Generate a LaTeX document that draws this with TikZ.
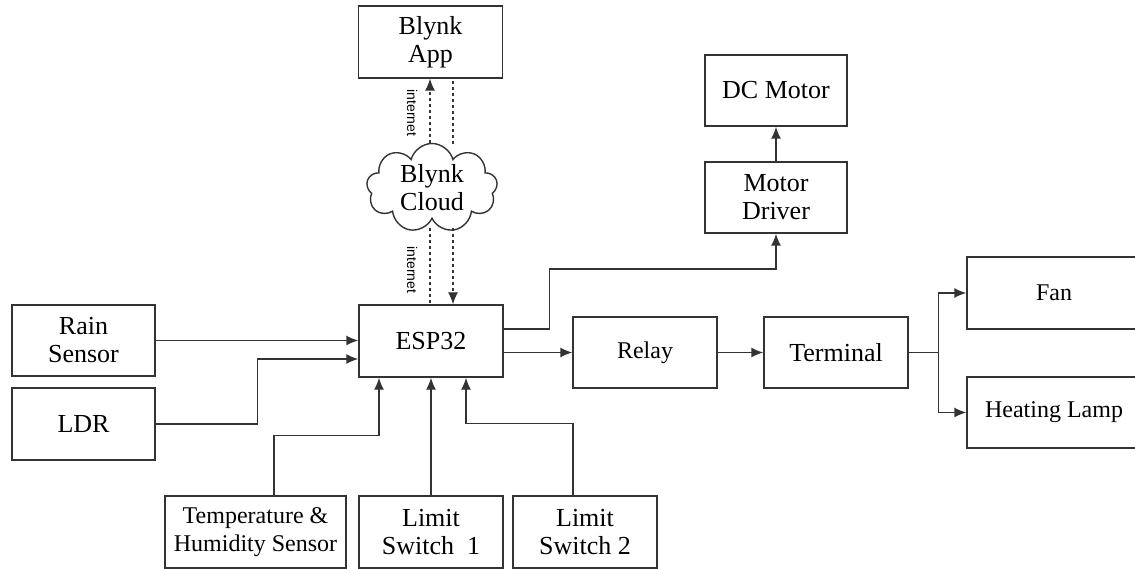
\documentclass[tikz,border=0pt]{standalone}
\usepackage{fontspec}
\setmainfont{Liberation Serif}
\newfontfamily\netfont{Liberation Sans}
\usetikzlibrary{arrows.meta, shapes.symbols, positioning}

\begin{document}
\begin{tikzpicture}[x=1pt, y=-1pt, line width=1.4pt, draw=black!80]
                    \tikzstyle{block}=[draw, rectangle, align=center, inner sep=0pt,
                                       minimum width=144pt, minimum height=71pt,
                                       font=\fontsize{26}{28}\selectfont]
                    \tikzstyle{small}=[font=\fontsize{24}{28}\selectfont]
                    \tikzstyle{arr}=[-{Latex[length=12pt,width=10pt]}]
                    \tikzstyle{net}=[dashed, line width=1.1pt]
                    \tikzstyle{netlabel}=[rotate=-90, inner sep=0pt,
                                          font=\netfont\fontsize{14}{14}\selectfont]

                    \useasboundingbox (0,0) rectangle (1135,569);

                    % cloud side
                    \node (App) [block, minimum height=72pt] at (430.5,42) {Blynk\\App};
                    \node (Cloud) [draw, cloud, cloud puffs=9, aspect=1.6, inner sep=0pt,
                                   minimum width=131pt, minimum height=83pt, align=center,
                                   font=\fontsize{26}{28}\selectfont] at (432,188) {Blynk\\Cloud};
                    \node (net1) [netlabel] at (412,113) {internet};
                    \node (net2) [netlabel] at (412,270) {internet};

                    % controller and inputs
                    \node (ESP) [block, minimum height=72pt] at (431,341) {ESP32};
                    \node (Rain) [block, minimum width=143pt] at (83.5,340.5) {Rain\\Sensor};
                    \node (LDR) [block, minimum width=143pt, minimum height=72pt] at (83.5,424) {LDR};
                    \node (Temp) [block, small, minimum width=181pt, minimum height=72pt] at (255.5,532) {Temperature \&\\Humidity Sensor};
                    \node (Lim1) [block, minimum height=72pt] at (431,532) {Limit\\Switch\ \ 1};
                    \node (Lim2) [block, minimum height=72pt] at (585,532) {Limit\\Switch 2};

                    % outputs
                    \node (Driver) [block, minimum width=142pt] at (776,197.5) {Motor\\Driver};
                    \node (Motor) [block, minimum width=142pt] at (776,90.5) {DC Motor};
                    \node (Relay) [block, small] at (645,352.5) {Relay};
                    \node (Term) [block] at (836,352.5) {Terminal};
                    \node (Fan) [block, small, minimum width=174pt, minimum height=72pt] at (1054,293) {Fan};
                    \node (Lamp) [block, small, minimum width=174pt] at (1054,412.5) {Heating Lamp};

                    % internet links
                    \draw[net,arr] ([xshift=-2pt]Cloud.north) -- ([xshift=-2pt]Cloud.north |- App.south);
                    \draw[net] ([xshift=22.5pt,yshift=-2pt]App.south) -- ([xshift=22.5pt,yshift=-3pt]App.south |- Cloud.north);
                    \draw[net] ([xshift=-2pt,yshift=-8pt]Cloud.south) -- ([xshift=-2pt]Cloud.south |- ESP.north);
                    \draw[net,arr] ([xshift=21pt,yshift=-8pt]Cloud.south) -- ([xshift=21pt]Cloud.south |- ESP.north);

                    % inputs
                    \draw[arr] (Rain.east) -- (Rain.east -| ESP.west);
                    \draw[arr] (LDR.east) -- ++(102,0) |- ([yshift=-18pt]ESP.west);
                    \draw[arr] ([xshift=18.5pt]Temp.north) -- ++(0,-60) -| ([xshift=-52pt]ESP.south);
                    \draw[arr] (Lim1.north) -- (ESP.south);
                    \draw[arr] ([xshift=-12pt]Lim2.north) -- ++(0,-72) -| ([xshift=35pt]ESP.south);

                    % outputs
                    \draw[arr] ([yshift=12pt]ESP.east) -- ++(46,0) -- ++(0,-60) -| (Driver.south);
                    \draw[arr] (Driver.north) -- (Motor.south);
                    \draw[arr] (ESP.east |- Relay.west) -- (Relay.west);
                    \draw[arr] (Relay.east) -- (Term.west);
                    \draw (Term.east) -- ++(30,0) coordinate (split);
                    \draw[arr] (split) |- (Fan.west);
                    \draw[arr] (split) |- (Lamp.west);
                \end{tikzpicture}
\end{document}
